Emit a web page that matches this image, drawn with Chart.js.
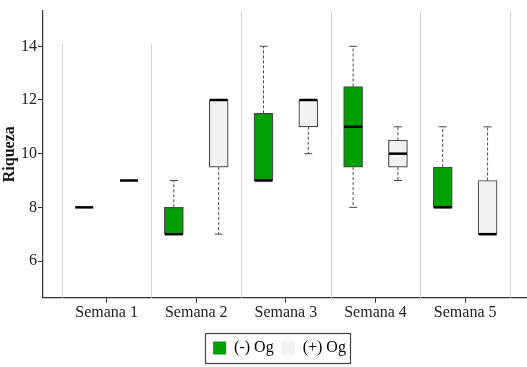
<!DOCTYPE html>
<html>
<head>
<meta charset="utf-8">
<script src="https://cdn.jsdelivr.net/npm/chart.js@4"></script>
<style>
	html, body { margin: 0; padding: 0; background: #fff; }
	#wrap { width: 527px; height: 367px; }
</style>
</head>
<body>
<div id="wrap"><canvas id="chart"></canvas></div>
<script>
	// Categories and box statistics
	const weeks = ['Semana 1', 'Semana 2', 'Semana 3', 'Semana 4', 'Semana 5'];
	const seriesNames = ['(-) Og', '(+) Og'];
	const yTicks = [6, 8, 10, 12, 14];

	// (-) Og
	const negMin = [8, 7, 9, 8, 8];
	const negQ1 = [8, 7, 9, 9.5, 8];
	const negMed = [8, 7, 9, 11, 8];
	const negQ3 = [8, 8, 11.5, 12.5, 9.5];
	const negMax = [8, 9, 14, 14, 11];

	// (+) Og
	const posMin = [9, 7, 10, 9, 7];
	const posQ1 = [9, 9.5, 11, 9.5, 7];
	const posMed = [9, 12, 12, 10, 7];
	const posQ3 = [9, 12, 12, 10.5, 9];
	const posMax = [9, 12, 12, 11, 11];

	const greenColor = '#00a000';
	const whiteColor = '#f2f2f2';
	const lineColor = '#4a4a4a';
	const fontFamily = '"Liberation Serif", "DejaVu Serif", serif';

	function makeBoxes(shift, q1, med, q3, mn, mx) {
		return weeks.map((w, i) => ({ x: i + shift, y: [q1[i], q3[i]], med: med[i], min: mn[i], max: mx[i] }));
	}

	const data = {
		datasets: [
			{
				label: seriesNames[0],
				data: makeBoxes(-0.25, negQ1, negMed, negQ3, negMin, negMax),
				backgroundColor: greenColor,
				borderColor: lineColor,
				borderWidth: 1.2,
				borderSkipped: false,
				barThickness: 19,
				grouped: false
			},
			{
				label: seriesNames[1],
				data: makeBoxes(0.25, posQ1, posMed, posQ3, posMin, posMax),
				backgroundColor: whiteColor,
				borderColor: lineColor,
				borderWidth: 1.2,
				borderSkipped: false,
				barThickness: 19,
				grouped: false
			}
		]
	};

	// Week separators, whiskers and medians
	const boxPlugin = {
		id: 'boxParts',
		afterLayout(chart) {
			// legend sits a little right of the canvas centre
			if (chart.legend) {
				chart.legend.left += 16;
				chart.legend.right += 16;
			}
		},
		beforeDatasetsDraw(chart) {
			const ctx = chart.ctx;
			const xs = chart.scales.x;
			const ys = chart.scales.y;
			ctx.save();
			ctx.strokeStyle = '#d0d0d0';
			ctx.lineWidth = 1;
			for (let b = -0.5; b <= weeks.length - 0.5; b += 1) {
				const px = Math.round(xs.getPixelForValue(b)) + 0.5;
				const top = b < 1 ? ys.getPixelForValue(14.07) : chart.chartArea.top;
				ctx.beginPath();
				ctx.moveTo(px, top);
				ctx.lineTo(px, chart.chartArea.bottom);
				ctx.stroke();
			}
			ctx.restore();
		},
		afterDatasetsDraw(chart) {
			const ctx = chart.ctx;
			const xs = chart.scales.x;
			const ys = chart.scales.y;
			ctx.save();
			chart.data.datasets.forEach(ds => {
				ds.data.forEach(d => {
					const cx = xs.getPixelForValue(d.x);
					const lo = ys.getPixelForValue(d.y[0]);
					const hi = ys.getPixelForValue(d.y[1]);
					const pMin = ys.getPixelForValue(d.min);
					const pMax = ys.getPixelForValue(d.max);
					ctx.strokeStyle = lineColor;
					ctx.lineWidth = 1;
					// whiskers
					[[hi, pMax, d.max > d.y[1]], [lo, pMin, d.min < d.y[0]]].forEach(([a, b, show]) => {
						if (!show) return;
						ctx.setLineDash([3, 2]);
						ctx.beginPath();
						ctx.moveTo(cx, a);
						ctx.lineTo(cx, b);
						ctx.stroke();
						ctx.setLineDash([]);
						ctx.beginPath();
						ctx.moveTo(cx - 4, b);
						ctx.lineTo(cx + 4, b);
						ctx.stroke();
					});
					// median
					const pm = ys.getPixelForValue(d.med);
					ctx.strokeStyle = '#000';
					ctx.lineWidth = 2.5;
					ctx.beginPath();
					ctx.moveTo(cx - 9, pm);
					ctx.lineTo(cx + 9, pm);
					ctx.stroke();
				});
			});
			ctx.restore();
		},
		afterDraw(chart) {
			// border round the legend
			const lg = chart.legend;
			if (!lg || !lg.legendHitBoxes.length) return;
			const boxes = lg.legendHitBoxes;
			const left = boxes[0].left - 8;
			const right = boxes[boxes.length - 1].left + boxes[boxes.length - 1].width + 4;
			const top = boxes[0].top - 7;
			const bottom = boxes[0].top + boxes[0].height + 7;
			const ctx = chart.ctx;
			ctx.save();
			ctx.strokeStyle = '#444';
			ctx.lineWidth = 1.2;
			ctx.strokeRect(Math.round(left) + 0.5, Math.round(top) + 0.5, Math.round(right - left), Math.round(bottom - top));
			ctx.restore();
		}
	};

	const config = {
		type: 'bar',
		data: data,
		plugins: [boxPlugin],
		options: {
			responsive: true,
			maintainAspectRatio: false,
			animation: false,
			layout: {
				padding: { top: 6, right: 0, left: 0, bottom: 1 }
			},
			plugins: {
				tooltip: { enabled: false },
				title: { display: false },
				legend: {
					display: true,
					position: 'bottom',
					labels: {
						boxWidth: 13,
						boxHeight: 13,
						padding: 8,
						color: '#222',
						font: { family: fontFamily, size: 16 },
						generateLabels() {
							return seriesNames.map((n, i) => ({
								text: n,
								fillStyle: i === 0 ? greenColor : whiteColor,
								strokeStyle: i === 0 ? greenColor : whiteColor,
								lineWidth: 0,
								datasetIndex: i
							}));
						}
					}
				}
			},
			scales: {
				x: {
					type: 'linear',
					offset: false,
					min: -0.71,
					max: 4.69,
					afterBuildTicks(scale) {
						scale.ticks = weeks.map((w, i) => ({ value: i }));
					},
					afterFit(scale) {
						scale.height += 10;
					},
					ticks: {
						color: '#222',
						font: { family: fontFamily, size: 16 },
						padding: 0,
						callback: (v) => weeks[v]
					},
					grid: {
						offset: false,
						drawOnChartArea: false,
						tickLength: 5,
						color: '#333'
					},
					border: { color: '#333', width: 1.2 }
				},
				y: {
					min: 4.63,
					max: 15.33,
					afterBuildTicks(scale) {
						scale.ticks = yTicks.map(v => ({ value: v }));
					},
					afterFit(scale) {
						scale.width = 43;
					},
					title: {
						display: true,
						text: 'Riqueza',
						color: '#111',
						font: { family: fontFamily, size: 16, weight: 'bold' },
						padding: 0
					},
					ticks: {
						color: '#222',
						font: { family: fontFamily, size: 16 },
						padding: 1
					},
					grid: {
						drawOnChartArea: false,
						tickLength: 5,
						color: '#333'
					},
					border: { color: '#333', width: 1.2 }
				}
			}
		}
	};

	const myChart = new Chart(document.getElementById('chart'), config);
</script>
</body>
</html>
